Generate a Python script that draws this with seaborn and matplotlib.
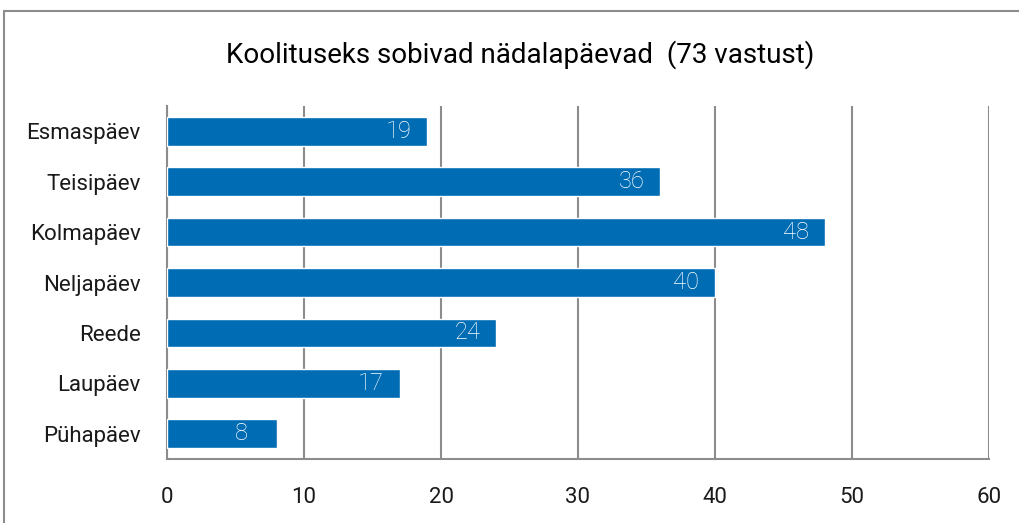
import matplotlib
matplotlib.use("Agg")
import matplotlib.pyplot as plt
import seaborn as sns
import pandas as pd
from matplotlib.patches import Rectangle

days = ["Esmaspäev", "Teisipäev", "Kolmapäev", "Neljapäev", "Reede", "Laupäev", "Pühapäev"]
counts = [19, 36, 48, 40, 24, 17, 8]
title = "Koolituseks sobivad nädalapäevad  (73 vastust)"

df = pd.DataFrame({"day": days, "count": counts})

sns.set_theme(style="white")
plt.rcParams["font.family"] = ["Roboto", "DejaVu Sans"]

fig = plt.figure(figsize=(10.19, 5.23), dpi=100)
ax = fig.add_axes([167 / 1019, 1 - 459 / 523, (989 - 167) / 1019, 353 / 523])

sns.barplot(data=df, x="count", y="day", color="#006CB4", width=0.57,
            saturation=1, ax=ax, zorder=3)

ax.set_xlim(0, 60)
ax.set_ylim(6.5, -0.5)
ax.set_xticks(range(0, 61, 10))
ax.grid(axis="x", color="#8c8c8c", linewidth=1.5, zorder=0)
ax.grid(axis="y", visible=False)
for s in ["top", "right"]:
    ax.spines[s].set_visible(False)
for s in ["left", "bottom"]:
    ax.spines[s].set_color("#8c8c8c")
    ax.spines[s].set_linewidth(1.5)
ax.tick_params(axis="x", length=0, pad=20, labelsize=16, labelcolor="#1a1a1a")
ax.tick_params(axis="y", length=0, pad=19, labelsize=16, labelcolor="#1a1a1a")
ax.set_xlabel("")
ax.set_ylabel("")

for c in ax.containers:
    ax.bar_label(c, labels=[str(v) for v in counts], label_type="edge",
                 padding=-30, color="white", fontsize=17, fontweight="light")

fig.text(520 / 1019, 1 - 55 / 523, title, ha="center", va="center",
         fontsize=20, color="black")

fig.patches.append(Rectangle((4 / 1019, -0.1), 1.2, 1 - 11 / 523 + 0.1,
                             transform=fig.transFigure, fill=False,
                             edgecolor="#8c8c8c", linewidth=1.5))

fig.savefig("out.png", dpi=100)
